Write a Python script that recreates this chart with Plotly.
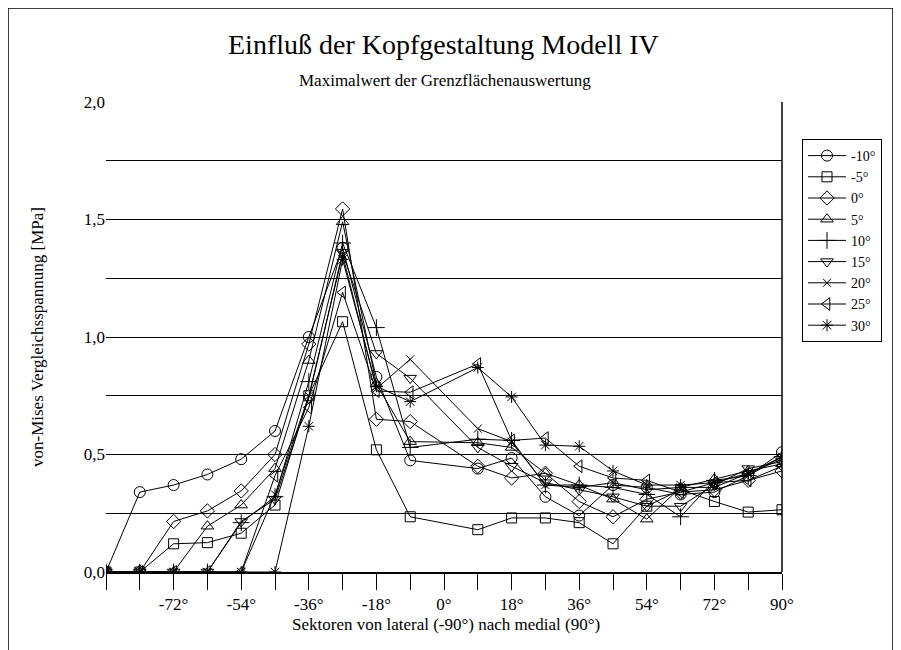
import plotly.graph_objects as go

# Sectors (degrees)
sectors = [-90, -81, -72, -63, -54, -45, -36, -27, -18, -9, 9, 18, 27, 36, 45, 54, 63, 72, 81, 90]

s_m10 = [0, 0.34, 0.37, 0.415, 0.48, 0.60, 1.00, 1.38, 0.83, 0.475, 0.44, 0.485, 0.32, 0.24, 0.37, 0.36, 0.33, 0.34, 0.41, 0.51]
s_m5 = [0, 0, 0.12, 0.125, 0.165, 0.285, 0.75, 1.065, 0.52, 0.235, 0.18, 0.23, 0.23, 0.21, 0.12, 0.28, 0.35, 0.30, 0.255, 0.265]
s_0 = [0, 0, 0.215, 0.26, 0.345, 0.50, 0.97, 1.545, 0.65, 0.64, 0.45, 0.40, 0.42, 0.30, 0.235, 0.31, 0.34, 0.35, 0.39, 0.43]
s_5 = [0, 0, 0, 0.195, 0.285, 0.44, 0.90, 1.49, 0.80, 0.555, 0.55, 0.53, 0.42, 0.37, 0.31, 0.225, 0.36, 0.395, 0.43, 0.46]
s_10 = [0, 0, 0, 0, 0.21, 0.32, 0.81, 1.40, 1.04, 0.53, 0.565, 0.56, 0.37, 0.37, 0.36, 0.33, 0.235, 0.39, 0.41, 0.49]
s_15 = [0, 0, 0, 0, 0.215, 0.31, 0.74, 1.36, 0.93, 0.825, 0.53, 0.45, 0.38, 0.35, 0.32, 0.28, 0.28, 0.37, 0.44, 0.47]
s_20 = [0, 0, 0, 0, 0, 0.33, 0.75, 1.35, 0.78, 0.905, 0.61, 0.555, 0.37, 0.36, 0.38, 0.35, 0.36, 0.36, 0.42, 0.48]
s_25 = [0, 0, 0, 0, 0, 0.41, 0.70, 1.19, 0.77, 0.765, 0.885, 0.56, 0.57, 0.45, 0.40, 0.39, 0.34, 0.38, 0.39, 0.45]
s_30 = [0, 0, 0, 0, 0, 0, 0.62, 1.33, 0.79, 0.725, 0.87, 0.745, 0.54, 0.535, 0.43, 0.37, 0.37, 0.38, 0.42, 0.49]

series_names = ["-10°", "-5°", "0°", "5°", "10°", "15°", "20°", "25°", "30°"]
series_values = [s_m10, s_m5, s_0, s_5, s_10, s_15, s_20, s_25, s_30]
symbols = ["circle-open", "square-open", "diamond-open", "triangle-up-open", "cross-thin-open",
           "triangle-down-open", "x-thin-open", "triangle-left-open", "asterisk-open"]
sizes = [11, 10, 11, 11, 12, 11, 8, 11, 10]

x_tickvals = list(range(-90, 91, 9))
x_ticktext = ["%d°" % v if (v % 18 == 0 and v != -90) else "" for v in x_tickvals]
y_tickvals = [0, 0.25, 0.5, 0.75, 1.0, 1.25, 1.5, 1.75, 2.0]
y_ticktext = ["0,0", "", "0,5", "", "1,0", "", "1,5", "", "2,0"]

FONT = "Liberation Serif"

# page offset (browser body margin)
OFF = 8
W, H = 901, 650
PL, PR, PT, PB = 106, 782, 102, 572  # plot area in page pixels
L = PL - OFF
T = PT - OFF
R = W - (PR - OFF)
B = H - (PB - OFF)
pw, ph = PR - PL, PB - PT


def px(xp):
    return (xp - PL) / pw


def py(yp):
    return (PB - yp) / ph


fig = go.Figure()
for name, vals, sym, sz in zip(series_names, series_values, symbols, sizes):
    fig.add_trace(go.Scatter(
        x=sectors, y=vals, name=name, mode="lines+markers",
        line=dict(color="black", width=1),
        marker=dict(symbol=sym, size=sz, color="black", line=dict(color="black", width=1)),
    ))

fig.update_layout(
    width=W, height=H,
    margin=dict(l=L, r=R, t=T, b=B, autoexpand=False),
    paper_bgcolor="white", plot_bgcolor="white",
    font=dict(family=FONT, size=17, color="black"),
    showlegend=True,
    legend=dict(
        x=px(802), y=py(139), xanchor="left", yanchor="top",
        bordercolor="black", borderwidth=1, bgcolor="white",
        font=dict(family=FONT, size=14, color="black"),
        tracegroupgap=0, itemwidth=38,
    ),
    xaxis=dict(
        range=[-90, 90], tickvals=x_tickvals, ticktext=x_ticktext,
        ticks="outside", ticklen=16, tickwidth=1, tickcolor="black",
        showline=True, linecolor="black", linewidth=2,
        showgrid=False, zeroline=False,
        tickfont=dict(family=FONT, size=17, color="black"),
    ),
    yaxis=dict(
        range=[0, 2.0], tickvals=y_tickvals, ticktext=y_ticktext,
        showgrid=True, gridcolor="black", gridwidth=1,
        showline=False, zeroline=False, ticks="",
        tickfont=dict(family=FONT, size=17, color="black"),
    ),
    annotations=[
        dict(text="Einfluß der Kopfgestaltung Modell IV", xref="paper", yref="paper",
             x=px(443), y=py(45), xanchor="center", yanchor="middle", showarrow=False,
             font=dict(family=FONT, size=28, color="black")),
        dict(text="Maximalwert der Grenzflächenauswertung", xref="paper", yref="paper",
             x=px(445), y=py(80), xanchor="center", yanchor="middle", showarrow=False,
             font=dict(family=FONT, size=17, color="black")),
        dict(text="Sektoren von lateral (-90°) nach medial (90°)", xref="paper", yref="paper",
             x=px(446), y=py(624), xanchor="center", yanchor="middle", showarrow=False,
             font=dict(family=FONT, size=17, color="black")),
        dict(text="von-Mises Vergleichsspannung [MPa]", xref="paper", yref="paper",
             x=px(37), y=py(337), xanchor="center", yanchor="middle", showarrow=False,
             textangle=-90, font=dict(family=FONT, size=17, color="black")),
    ],
    shapes=[
        dict(type="line", xref="paper", yref="paper", x0=1, x1=1, y0=0, y1=1,
             line=dict(color="black", width=1.5)),
        dict(type="rect", xref="paper", yref="paper", x0=px(8), x1=px(893), y0=py(680), y1=py(8),
             line=dict(color="black", width=1.5), fillcolor="rgba(0,0,0,0)", layer="below"),
    ],
)

fig.write_html("out.html")
